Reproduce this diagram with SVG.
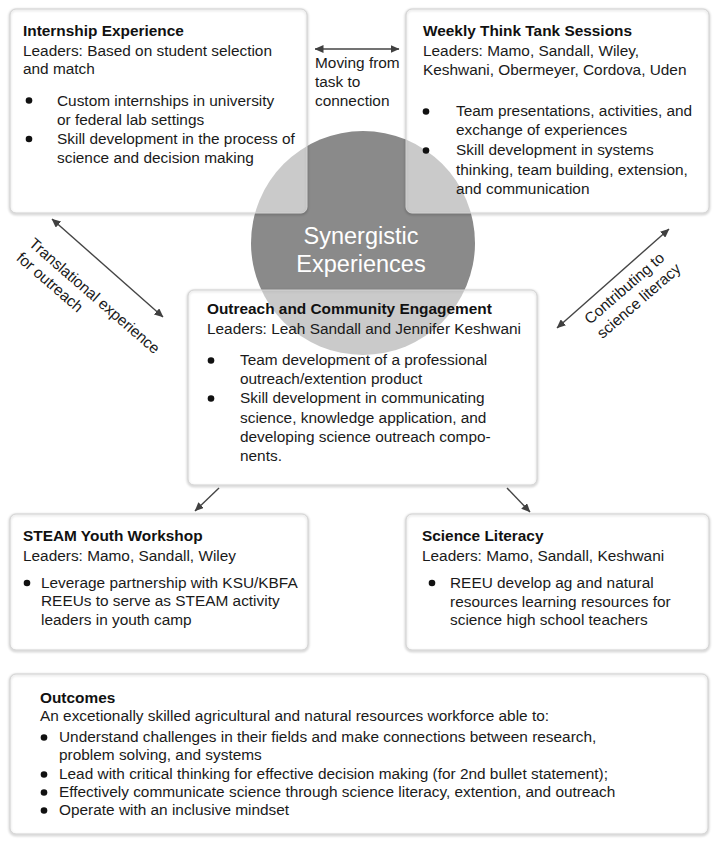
<svg xmlns="http://www.w3.org/2000/svg" width="720" height="848" viewBox="0 0 720 848">
  <defs>
    <style>
      text { font-family: "Liberation Sans", Arial, sans-serif; font-size: 15.4px; fill: #1a1a1a; }
      .t { font-weight: bold; fill: #111; }
      .box { fill: #ffffff; fill-opacity: 0.55; stroke: #d4d4d4; stroke-width: 1; }
      .shadow { fill: none; stroke: #000; stroke-opacity: 0.18; stroke-width: 2.5; filter: url(#blur); }
      .dot { fill: #111; }
      .conn { stroke: #454545; stroke-width: 1.4; fill: none; }
      .syn { fill: #ffffff; font-size: 23.5px; }
    </style>
    <filter id="blur" x="-5%" y="-5%" width="110%" height="110%">
      <feGaussianBlur stdDeviation="1.3"/>
    </filter>
    <marker id="ah" viewBox="0 0 9 8" refX="8.5" refY="4" markerWidth="9" markerHeight="8" markerUnits="userSpaceOnUse" orient="auto-start-reverse">
      <path d="M0,0 L9,4 L0,8 z" fill="#404040"/>
    </marker>
  </defs>
  <rect width="720" height="848" fill="#ffffff"/>

  <g id="synergy">
    <circle cx="363" cy="243" r="112" fill="#8a8a8a"/>
    <text class="syn" text-anchor="middle"><tspan x="361" y="244">Synergistic</tspan><tspan x="361" y="271.5">Experiences</tspan></text>
  </g>

  <g id="internship">
    <rect class="shadow" x="10" y="10" width="297" height="204" rx="6"/>
    <rect class="box" x="10" y="9" width="297" height="204" rx="6"/>
    <text class="t" x="23" y="35.5">Internship Experience</text>
    <text x="23" y="55.5">Leaders: Based on student selection</text>
    <text x="23" y="74">and match</text>
    <circle class="dot" cx="29" cy="100.5" r="3.3"/>
    <text x="57" y="105.5">Custom internships in university</text>
    <text x="57" y="124.5">or federal lab settings</text>
    <circle class="dot" cx="29" cy="139" r="3.3"/>
    <text x="57" y="144">Skill development in the process of</text>
    <text x="57" y="163">science and decision making</text>
  </g>

  <g id="thinktank">
    <rect class="shadow" x="406" y="10" width="303" height="204" rx="6"/>
    <rect class="box" x="406" y="9" width="303" height="204" rx="6"/>
    <text class="t" x="423" y="36">Weekly Think Tank Sessions</text>
    <text x="423" y="56">Leaders: Mamo, Sandall, Wiley,</text>
    <text x="423" y="75">Keshwani, Obermeyer, Cordova, Uden</text>
    <circle class="dot" cx="426" cy="111.5" r="3.3"/>
    <text x="456" y="116">Team presentations, activities, and</text>
    <text x="456" y="135">exchange of experiences</text>
    <circle class="dot" cx="426" cy="150.5" r="3.3"/>
    <text x="456" y="155">Skill development in systems</text>
    <text x="456" y="174.5">thinking, team building, extension,</text>
    <text x="456" y="194">and communication</text>
  </g>

  <g id="outreach">
    <rect class="shadow" x="188" y="291" width="349" height="195" rx="6"/>
    <rect class="box" x="188" y="290" width="349" height="195" rx="6"/>
    <text class="t" x="207" y="314">Outreach and Community Engagement</text>
    <text x="207" y="334">Leaders: Leah Sandall and Jennifer Keshwani</text>
    <circle class="dot" cx="211" cy="360.5" r="3.3"/>
    <text x="240" y="365">Team development of a professional</text>
    <text x="240" y="383.5">outreach/extention product</text>
    <circle class="dot" cx="211" cy="398.5" r="3.3"/>
    <text x="240" y="403">Skill development in communicating</text>
    <text x="240" y="422.5">science, knowledge application, and</text>
    <text x="240" y="441.5">developing science outreach compo-</text>
    <text x="240" y="461">nents.</text>
  </g>

  <g id="steam">
    <rect class="shadow" x="10" y="515" width="298" height="136" rx="6"/>
    <rect class="box" x="10" y="514" width="298" height="136" rx="6"/>
    <text class="t" x="23" y="541">STEAM Youth Workshop</text>
    <text x="23" y="561">Leaders: Mamo, Sandall, Wiley</text>
    <circle class="dot" cx="27" cy="583" r="3.3"/>
    <text x="41" y="587.5">Leverage partnership with KSU/KBFA</text>
    <text x="41" y="606">REEUs to serve as STEAM activity</text>
    <text x="41" y="624.5">leaders in youth camp</text>
  </g>

  <g id="literacy">
    <rect class="shadow" x="406" y="515" width="303" height="136" rx="6"/>
    <rect class="box" x="406" y="514" width="303" height="136" rx="6"/>
    <text class="t" x="422" y="541">Science Literacy</text>
    <text x="422" y="561">Leaders: Mamo, Sandall, Keshwani</text>
    <circle class="dot" cx="432" cy="583" r="3.3"/>
    <text x="450" y="588">REEU develop ag and natural</text>
    <text x="450" y="606.5">resources learning resources for</text>
    <text x="450" y="625">science high school teachers</text>
  </g>

  <g id="outcomes">
    <rect class="shadow" x="10" y="675" width="698" height="160" rx="6"/>
    <rect class="box" x="10" y="674" width="698" height="160" rx="6"/>
    <text class="t" x="40" y="703">Outcomes</text>
    <text x="40" y="721">An excetionally skilled agricultural and natural resources workforce able to:</text>
    <circle class="dot" cx="44" cy="737.5" r="3.3"/>
    <text x="59" y="742">Understand challenges in their fields and make connections between research,</text>
    <text x="59" y="760">problem solving, and systems</text>
    <circle class="dot" cx="44" cy="774.5" r="3.3"/>
    <text x="59" y="779">Lead with critical thinking for effective decision making (for 2nd bullet statement);</text>
    <circle class="dot" cx="44" cy="792.5" r="3.3"/>
    <text x="59" y="797">Effectively communicate science through science literacy, extention, and outreach</text>
    <circle class="dot" cx="44" cy="810.5" r="3.3"/>
    <text x="59" y="815">Operate with an inclusive mindset</text>
  </g>

  <g id="connectors">
    <line class="conn" x1="315" y1="49" x2="399" y2="49" marker-start="url(#ah)" marker-end="url(#ah)"/>
    <text x="315" y="67.5">Moving from</text>
    <text x="315" y="86.5">task to</text>
    <text x="315" y="105.5">connection</text>

    <line class="conn" x1="52" y1="219" x2="163" y2="317" marker-start="url(#ah)" marker-end="url(#ah)"/>
    <g transform="translate(28,245) rotate(41)">
      <text x="0" y="0">Translational experience</text>
      <text x="0" y="19">for outreach</text>
    </g>

    <line class="conn" x1="557" y1="328" x2="669" y2="229" marker-start="url(#ah)" marker-end="url(#ah)"/>
    <g transform="translate(590,325) rotate(-41)">
      <text x="0" y="0">Contributing to</text>
      <text x="0" y="19">science literacy</text>
    </g>

    <line class="conn" x1="219" y1="488" x2="195" y2="511" marker-end="url(#ah)"/>
    <line class="conn" x1="507" y1="488" x2="530" y2="512" marker-end="url(#ah)"/>
  </g>
</svg>
